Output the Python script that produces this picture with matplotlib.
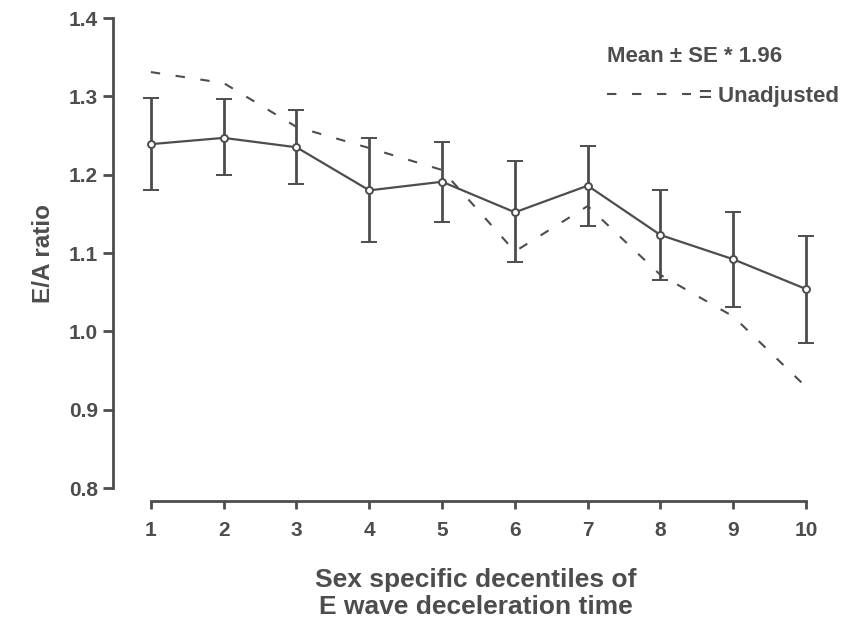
import numpy as np
import matplotlib
matplotlib.use('Agg')
import matplotlib.pyplot as plt
from matplotlib.lines import Line2D

plt.rcParams['font.family'] = ['Liberation Sans', 'DejaVu Sans']
plt.rcParams['font.weight'] = 'bold'
plt.rcParams['axes.labelweight'] = 'bold'

ink = '#4d4d4d'

# decentile groups and E/A ratio estimates
decentiles = np.arange(1, 11)
mean_ea = [1.239, 1.247, 1.235, 1.180, 1.191, 1.152, 1.186, 1.123, 1.092, 1.054]
upper_ci = [1.298, 1.296, 1.282, 1.247, 1.242, 1.217, 1.237, 1.181, 1.153, 1.122]
lower_ci = [1.180, 1.199, 1.188, 1.114, 1.140, 1.089, 1.135, 1.065, 1.031, 0.985]
unadjusted = [1.331, 1.317, 1.261, 1.234, 1.206, 1.102, 1.160, 1.072, 1.019, 0.929]

mean_ea = np.array(mean_ea)
yerr = [mean_ea - np.array(lower_ci), np.array(upper_ci) - mean_ea]
dash = (4.5, 7.5)

fig = plt.figure(figsize=(8.44, 6.26), dpi=100)
ax = fig.add_axes([0.1339, 0.2204, 0.86, 0.7508])

ax.plot(decentiles, unadjusted, color=ink, lw=1.5, dashes=dash)
ax.errorbar(decentiles, mean_ea, yerr=yerr, color=ink, lw=1.6, elinewidth=2.0,
            capsize=5.8, capthick=2.0, marker='o', ms=5, mfc='white',
            mec=ink, mew=1.4)

ax.set_xlim(0.48, 10.45)
ax.set_ylim(0.8, 1.4)
ax.set_xticks(decentiles)
ax.set_yticks(np.arange(0.8, 1.41, 0.1))
ax.set_yticklabels(['%.1f' % v for v in np.arange(0.8, 1.41, 0.1)])

for side in ('top', 'right'):
    ax.spines[side].set_visible(False)
ax.spines['left'].set_bounds(0.8, 1.4)
ax.spines['bottom'].set_bounds(1, 10)
ax.spines['bottom'].set_position(('outward', 9))
for side in ('left', 'bottom'):
    ax.spines[side].set_color(ink)
    ax.spines[side].set_linewidth(2.0)

ax.tick_params(axis='both', colors=ink, labelsize=15, width=2.0, length=7)
ax.tick_params(axis='y', pad=4)
ax.tick_params(axis='x', length=6, pad=9)

ax.set_ylabel('E/A ratio', fontsize=17.5, color=ink, labelpad=10)
ax.set_xlabel('Sex specific decentiles of\nE wave deceleration time',
              fontsize=19, color=ink, labelpad=20, linespacing=1.15)

# four full dashes in the key: 3 periods plus one dash, in font-size units
handle = Line2D([], [], color=ink, lw=1.5, dashes=dash)
leg = ax.legend([handle], ['= Unadjusted'], title='Mean \u00b1 SE * 1.96',
                loc='upper right', bbox_to_anchor=(1.0, 0.94), frameon=False,
                borderaxespad=0, borderpad=0, labelspacing=0.85,
                handlelength=3.8, handletextpad=0.35, alignment='left',
                prop={'size': 16, 'weight': 'bold'})
leg.get_title().set_fontsize(16)
leg.get_title().set_fontweight('bold')
leg.get_title().set_color(ink)
for t in leg.get_texts():
    t.set_color(ink)

plt.savefig('out.png')
